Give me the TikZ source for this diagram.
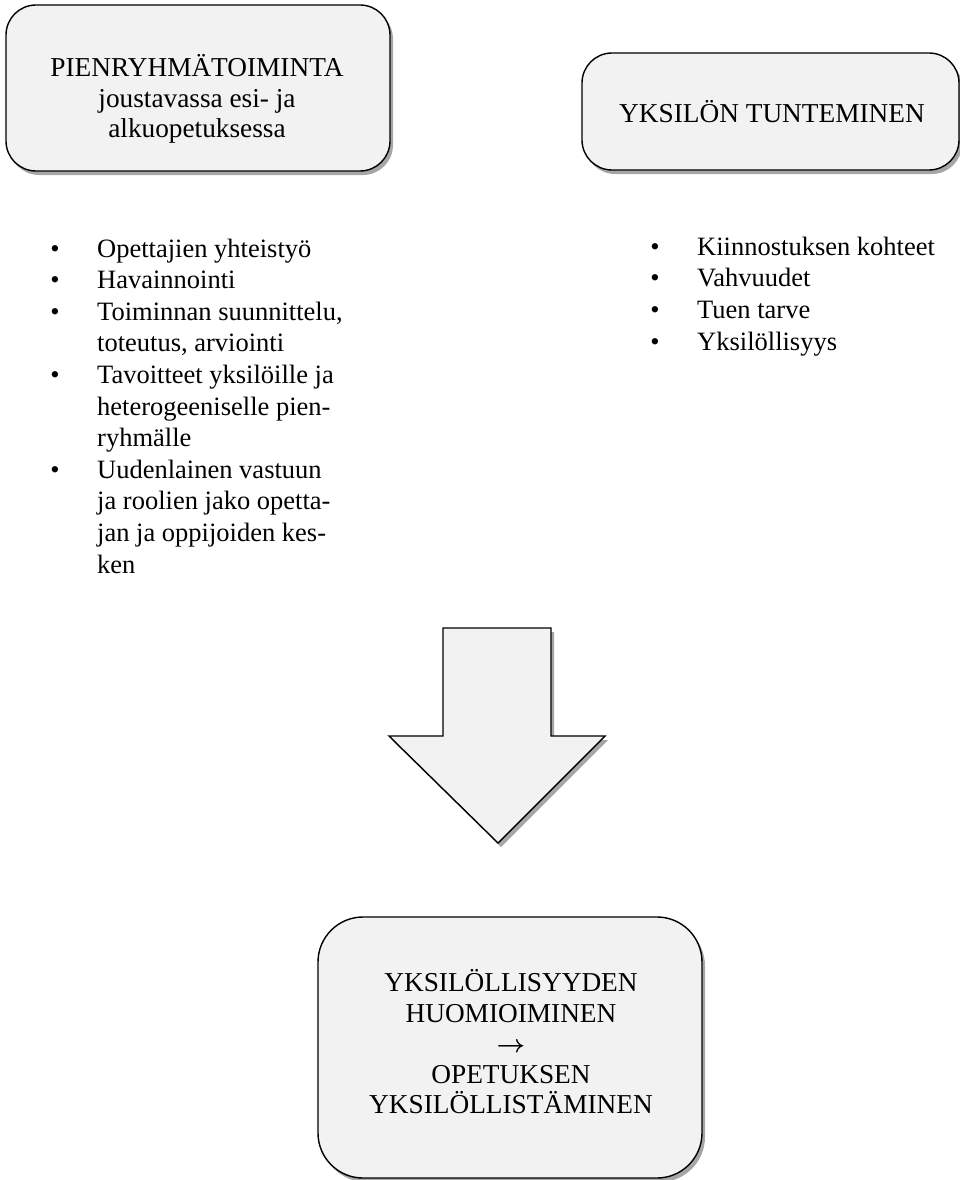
\documentclass[tikz,border=0pt]{standalone}
\usepackage{amsmath}
\usepackage{fontspec}
\setmainfont{Liberation Serif}
\usetikzlibrary{shadows}
\definecolor{boxgray}{HTML}{F2F2F2}
\begin{document}
\begin{tikzpicture}[x=1pt,y=-1pt,
  shad/.style={drop shadow={shadow xshift=3pt, shadow yshift=-4pt, opacity=0.35, fill=black}},
  box/.style={draw=black, line width=1.4pt, fill=boxgray, shad, inner sep=0pt},
  txt/.style={font=\fontsize{27.3}{30.5}\selectfont, align=center, inner sep=0pt},
  li/.style={font=\fontsize{26.5}{32}\selectfont, anchor=base west, inner sep=0pt},
  bul/.style={font=\fontsize{26.5}{32}\selectfont, anchor=base, inner sep=0pt}]
\useasboundingbox (0,0) rectangle (960,1180);

% boxes
\node[box, rounded corners=30pt, minimum width=384pt, minimum height=166pt] (b1) at (198,88) {};
\node[box, rounded corners=30pt, minimum width=377pt, minimum height=117pt] (b2) at (770.5,111.5) {};
\node[box, rounded corners=45pt, minimum width=384pt, minimum height=261pt] (b3) at (510,1047.5) {};

% box texts
\node[txt] (t1) at (197,99) {PIENRYHMÄTOIMINTA\\joustavassa esi- ja\\alkuopetuksessa};
\node[txt] (t2) at (772,111.5) {YKSILÖN TUNTEMINEN};
\node[txt] (t3) at (511,1042) {YKSILÖLLISYYDEN\\HUOMIOIMINEN\\{\fontsize{23}{30.5}\selectfont$\boldsymbol{\rightarrow}$}\\OPETUKSEN\\YKSILÖLLISTÄMINEN};

% big arrow
\coordinate (a1) at (443,628);
\coordinate (a2) at (551,628);
\coordinate (a3) at (551,736);
\coordinate (a4) at (605,736);
\coordinate (a5) at (498,843);
\coordinate (a6) at (389,736);
\coordinate (a7) at (443,736);
\draw[line width=1.4pt, fill=boxgray, line join=miter, shad] (a1) -- (a2) -- (a3) -- (a4) -- (a5) -- (a6) -- (a7) -- cycle;

% left list
\foreach \k/\n in {0/a,1/b,2/c,4/d,7/e}
  \node[bul] (lb\n) at (55,257+31.6*\k) {•};
\node[li] (l0) at (97,257) {Opettajien yhteistyö};
\node[li] (l1) at (97,288.6) {Havainnointi};
\node[li] (l2) at (97,320.2) {Toiminnan suunnittelu,};
\node[li] (l3) at (97,351.8) {toteutus, arviointi};
\node[li] (l4) at (97,383.4) {Tavoitteet yksilöille ja};
\node[li] (l5) at (97,415) {heterogeeniselle pien-};
\node[li] (l6) at (97,446.6) {ryhmälle};
\node[li] (l7) at (97,478.2) {Uudenlainen vastuun};
\node[li] (l8) at (97,509.8) {ja roolien jako opetta-};
\node[li] (l9) at (97,541.4) {jan ja oppijoiden kes-};
\node[li] (l10) at (97,573) {ken};

% right list
\foreach \k/\n in {0/a,1/b,2/c,3/d}
  \node[bul] (rb\n) at (655,255+31.8*\k) {•};
\node[li] (r0) at (697,255) {Kiinnostuksen kohteet};
\node[li] (r1) at (697,286.8) {Vahvuudet};
\node[li] (r2) at (697,318.6) {Tuen tarve};
\node[li] (r3) at (697,350.4) {Yksilöllisyys};
\end{tikzpicture}
\end{document}
